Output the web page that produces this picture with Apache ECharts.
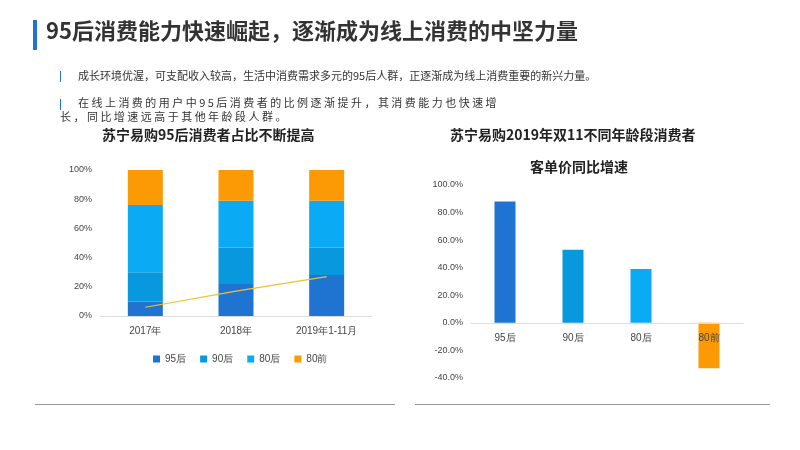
<!DOCTYPE html>
<html>
<head>
<meta charset="utf-8">
<script src="https://cdn.jsdelivr.net/npm/echarts@6/dist/echarts.min.js"></script>
<style>
body{margin:0;background:#fff;font-family:"Noto Sans CJK SC",sans-serif;}
#c{width:800px;height:450px;}
</style>
</head>
<body>
<div id="c"></div>
<script>
var years = ['2017年', '2018年', '2019年1-11月'];
var s95 = [10, 22, 28];
var s90 = [20, 25, 19];
var s80 = [46, 32, 32];
var s80q = [24, 21, 21];
var trend = [6, 17, 27];

var groups = ['95后', '90后', '80后', '80前'];
var growth = [88, 53, 39, -33];
var groupColors = ['#1f74d1', '#0898de', '#0aaaf5', '#fb9a05'];

var chart = echarts.init(document.getElementById('c'));
var txt = '#333';
var option = {
    animation: false,
    graphic: [
        {type: 'rect', shape: {x: 33, y: 20, width: 4, height: 30}, style: {fill: '#1f74d1'}},
        {type: 'text', left: 46, top: 20, style: {text: '95后消费能力快速崛起，逐渐成为线上消费的中坚力量', font: 'bold 22px "Noto Sans CJK SC"', fill: '#333'}},
        {type: 'rect', shape: {x: 60, y: 71, width: 1, height: 11}, style: {fill: '#1f74d1'}},
        {type: 'text', left: 78, top: 70, style: {text: '成长环境优渥，可支配收入较高，生活中消费需求多元的95后人群，正逐渐成为线上消费重要的新兴力量。', font: '11px "Noto Sans CJK SC"', fill: txt}},
        {type: 'rect', shape: {x: 60, y: 99, width: 1, height: 11}, style: {fill: '#1f74d1'}},
        {type: 'text', left: 78, top: 97, style: {text: '在 线 上 消 费 的 用 户 中 9 5 后 消 费 者 的 比 例 逐 渐 提 升 ， 其 消 费 能 力 也 快 速 增', font: '11px "Noto Sans CJK SC"', fill: txt}},
        {type: 'text', left: 60, top: 111, style: {text: '长 ， 同 比 增 速 远 高 于 其 他 年 龄 段 人 群 。', font: '11px "Noto Sans CJK SC"', fill: txt}},
        {type: 'text', left: 102, top: 128, style: {text: '苏宁易购95后消费者占比不断提高', font: 'bold 14px "Noto Sans CJK SC"', fill: '#222'}},
        {type: 'text', left: 450, top: 128, style: {text: '苏宁易购2019年双11不同年龄段消费者', font: 'bold 14px "Noto Sans CJK SC"', fill: '#222'}},
        {type: 'text', left: 530, top: 160, style: {text: '客单价同比增速', font: 'bold 14px "Noto Sans CJK SC"', fill: '#222'}},
        {type: 'rect', shape: {x: 35, y: 404, width: 360, height: 1}, style: {fill: '#999'}},
        {type: 'rect', shape: {x: 415, y: 404, width: 355, height: 1}, style: {fill: '#999'}}
    ],
    legend: {
        data: groups, left: 148, top: 349, itemWidth: 7, itemHeight: 7, itemGap: 14,
        textStyle: {fontSize: 10, color: '#444'}, icon: 'rect'
    },
    grid: [
        {left: 100, right: 428, top: 170, bottom: 134},
        {left: 471, right: 57, top: 185, bottom: 72}
    ],
    xAxis: [
        {gridIndex: 0, type: 'category', data: years,
         axisLine: {lineStyle: {color: '#ddd'}}, axisTick: {show: false},
         axisLabel: {color: '#444', fontSize: 10, margin: 10}},
        {gridIndex: 1, type: 'category', data: groups, position: 'bottom', offset: -55, z: 10,
         axisLine: {onZero: false, lineStyle: {color: '#ddd'}}, axisTick: {show: false},
         axisLabel: {color: '#444', fontSize: 10, margin: 10}}
    ],
    yAxis: [
        {gridIndex: 0, type: 'value', min: 0, max: 100, interval: 20,
         axisLabel: {formatter: '{value}%', color: '#444', fontSize: 9},
         splitLine: {show: false}},
        {gridIndex: 1, type: 'value', min: -40, max: 100, interval: 20,
         axisLabel: {formatter: function (v) { return v.toFixed(1) + '%'; }, color: '#444', fontSize: 9},
         splitLine: {show: false}}
    ],
    series: [
        {name: '95后', type: 'bar', stack: 'a', data: s95, barWidth: 35, itemStyle: {color: groupColors[0]}},
        {name: '90后', type: 'bar', stack: 'a', data: s90, itemStyle: {color: groupColors[1]}},
        {name: '80后', type: 'bar', stack: 'a', data: s80, itemStyle: {color: groupColors[2]}},
        {name: '80前', type: 'bar', stack: 'a', data: s80q, itemStyle: {color: groupColors[3]}},
        {name: 'trend', type: 'line', data: trend, symbol: 'none', z: 5,
         lineStyle: {color: '#f2c12e', width: 1.2}},
        {name: '增速', type: 'bar', xAxisIndex: 1, yAxisIndex: 1, barWidth: 21, z: 1,
         data: growth.map(function (v, i) { return {value: v, itemStyle: {color: groupColors[i]}}; })}
    ]
};
chart.setOption(option);
</script>
</body>
</html>
